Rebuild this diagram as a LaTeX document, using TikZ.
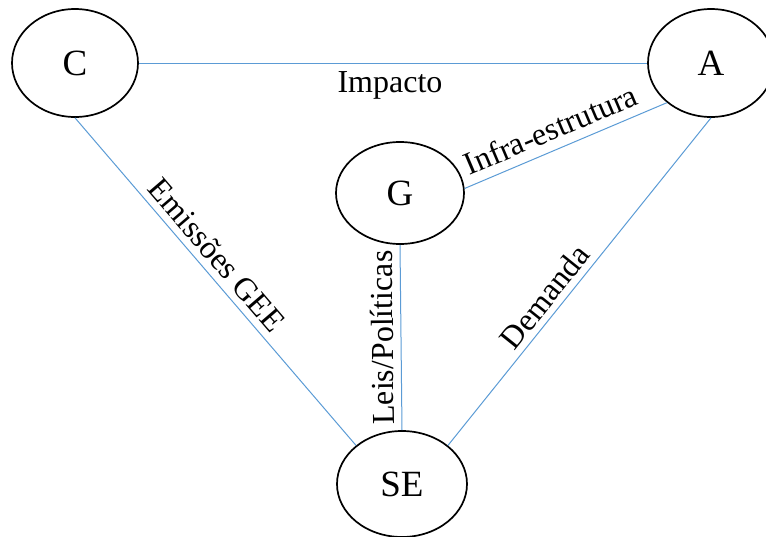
\documentclass[tikz,border=0pt]{standalone}
\usepackage{fontspec}
\setmainfont{Liberation Serif}
\usetikzlibrary{shapes.geometric}
\definecolor{linkblue}{RGB}{91,155,213}
\begin{document}
\begin{tikzpicture}[x=1pt,y=-1pt,
  concept/.style={ellipse, draw=black, line width=1.7pt, inner sep=0pt,
    font=\fontsize{37}{40}\selectfont},
  link/.style={draw=linkblue, line width=1pt},
  rel/.style={font=\fontsize{32}{36}\selectfont, inner sep=0pt}]
\useasboundingbox (0,0) rectangle (766,536);
% the four concepts
\node[concept, minimum width=126pt, minimum height=108pt] (C) at (75,63) {C};
\node[concept, minimum width=126pt, minimum height=108pt] (A) at (711,63) {A};
\node[concept, minimum width=128pt, minimum height=102pt] (G) at (400,193) {G};
\node[concept, minimum width=130pt, minimum height=106pt] (SE) at (402,484) {SE};
% relations
\draw[link] (C.east) -- node[rel, pos=0.494, below=8pt] {Impacto} (A.west);
\draw[link] (C.south) -- node[rel, sloped, pos=0.456, above=7pt] {Emissões GEE} (SE.140);
\draw[link] (SE.north) -- node[rel, sloped, allow upside down, pos=0.5, above=7pt] {Leis/Políticas} (G.south);
\draw[link] (SE.40) -- node[rel, sloped, pos=0.42, above=6pt] {Demanda} (A.south);
\draw[link] (G.4) -- node[rel, sloped, pos=0.465, above=9pt] {Infra-estrutura} (A.222);
\end{tikzpicture}
\end{document}
